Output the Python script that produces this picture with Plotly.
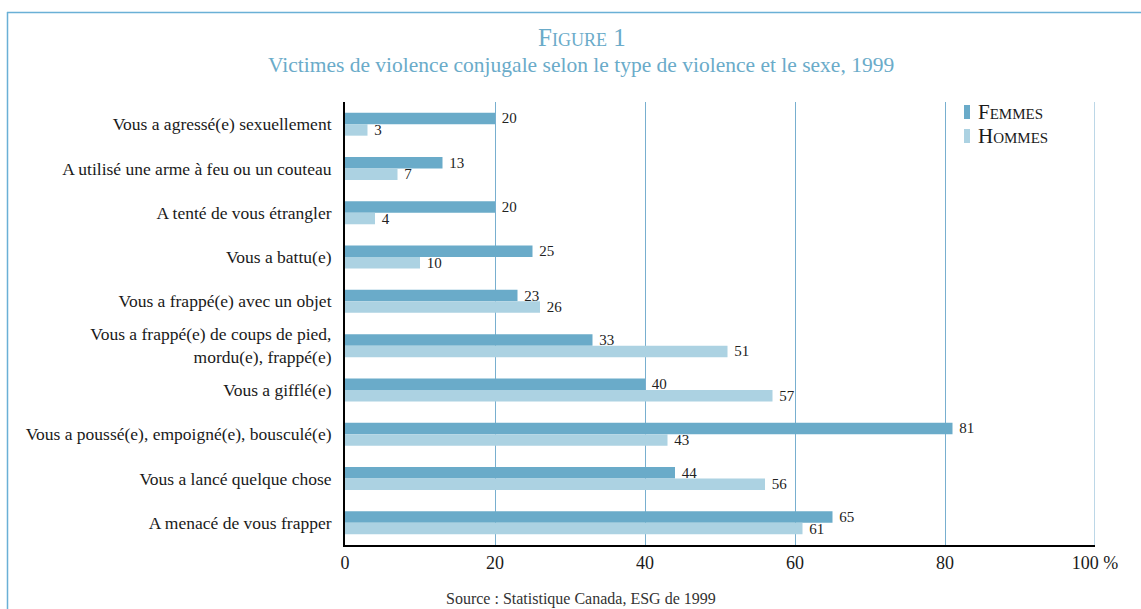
import plotly.graph_objects as go

categories = [
    "Vous a agressé(e) sexuellement",
    "A utilisé une arme à feu ou un couteau",
    "A tenté de vous étrangler",
    "Vous a battu(e)",
    "Vous a frappé(e) avec un objet",
    "Vous a frappé(e) de coups de pied,<br>mordu(e), frappé(e)",
    "Vous a gifflé(e)",
    "Vous a poussé(e), empoigné(e), bousculé(e)",
    "Vous a lancé quelque chose",
    "A menacé de vous frapper",
]
femmes = [20, 13, 20, 25, 23, 33, 40, 81, 44, 65]
hommes = [3, 7, 4, 10, 26, 51, 57, 43, 56, 61]
tick_vals = [0, 20, 40, 60, 80, 100]
tick_text = ["0", "20", "40", "60", "80", "100 %"]
series_names = ["Femmes", "Hommes"]

W, H = 1141, 609
ML, MR, MT, MB = 345, 46, 102, 64
PW = W - ML - MR
PH = H - MT - MB

FONT = "Liberation Serif"
C_F = "#6aabc9"
C_H = "#acd2e2"
FRAME = "#6ab0d6"
GRID = "#78afcf"


def px_x(p):
    return (p - ML) / PW


def px_y(p):
    return 1 - (p - MT) / PH


fig = go.Figure()
for name, vals, col in [(series_names[0], femmes, C_F), (series_names[1], hommes, C_H)]:
    fig.add_trace(go.Bar(
        y=categories, x=vals, name=name, orientation="h",
        marker=dict(color=col, line=dict(width=0)),
        text=["\u00a0" + str(v) for v in vals], textposition="outside",
        textfont=dict(family=FONT, size=15, color="#222"),
        constraintext="none",
        cliponaxis=False, showlegend=False,
    ))

shapes = [
    dict(type="line", xref="paper", yref="paper",
         x0=px_x(7), x1=px_x(W + 5), y0=px_y(12.5), y1=px_y(12.5),
         line=dict(color=FRAME, width=1.5)),
    dict(type="line", xref="paper", yref="paper",
         x0=px_x(7.5), x1=px_x(7.5), y0=px_y(12), y1=px_y(H + 5),
         line=dict(color=FRAME, width=1.5)),
    dict(type="line", xref="x", yref="paper",
         x0=100, x1=100, y0=0, y1=1,
         line=dict(color=GRID, width=1)),
]
annotations = [
    dict(text="Figure 1", xref="paper", yref="paper",
         x=px_x(582), y=px_y(38), xanchor="center", yanchor="middle",
         showarrow=False,
         font=dict(family=FONT, size=25, color="#6aabc9", variant="small-caps")),
    dict(text="Victimes de violence conjugale selon le type de violence et le sexe, 1999",
         xref="paper", yref="paper",
         x=px_x(581), y=px_y(65), xanchor="center", yanchor="middle",
         showarrow=False,
         font=dict(family=FONT, size=21.5, color="#6aabc9")),
    dict(text="Source : Statistique Canada, ESG de 1999",
         xref="paper", yref="paper",
         x=px_x(581), y=px_y(599), xanchor="center", yanchor="middle",
         showarrow=False,
         font=dict(family=FONT, size=16, color="#333")),
]
# legend (custom, narrow swatches like the reference)
for i, (name, col) in enumerate([(series_names[0], C_F), (series_names[1], C_H)]):
    cy = 112 + i * 24
    shapes.append(dict(type="rect", xref="paper", yref="paper",
                       x0=px_x(964), x1=px_x(970), y0=px_y(cy - 7), y1=px_y(cy + 7),
                       fillcolor=col, line=dict(width=0)))
    annotations.append(dict(text=name, xref="paper", yref="paper",
                            x=px_x(976), y=px_y(cy), xanchor="left", yanchor="middle",
                            showarrow=False,
                            font=dict(family=FONT, size=21, color="#1a1a1a",
                                      variant="small-caps")))

fig.update_layout(
    width=W, height=H,
    margin=dict(l=ML, r=MR, t=MT, b=MB),
    paper_bgcolor="white", plot_bgcolor="white",
    barmode="group", bargap=0.48, bargroupgap=0,
    font=dict(family=FONT, size=16, color="#1a1a1a"),
    showlegend=False,
    xaxis=dict(
        range=[0, 100], tickvals=tick_vals, ticktext=tick_text,
        showgrid=True, gridcolor=GRID, gridwidth=1,
        zeroline=False, showline=True, linecolor="black", linewidth=2,
        ticks="", tickfont=dict(family=FONT, size=18, color="#1a1a1a"),
    ),
    yaxis=dict(
        autorange="reversed", showgrid=False, zeroline=False,
        showline=True, linecolor="black", linewidth=2, ticks="",
        tickfont=dict(family=FONT, size=17.5, color="#1a1a1a"),
        ticklabelstandoff=8,
    ),
    shapes=shapes,
    annotations=annotations,
)

fig.write_html("out.html", config={"displayModeBar": False},
               post_script="document.body.style.margin='0';document.body.style.overflow='hidden';")
